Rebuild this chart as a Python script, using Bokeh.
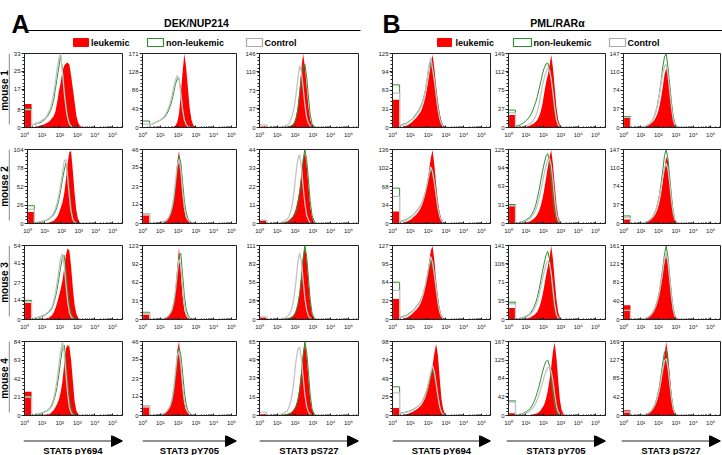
import math
from bokeh.plotting import figure
from bokeh.layouts import row, column
from bokeh.models import Range1d, FixedTicker, Arrow, NormalHead, Spacer
from bokeh.embed import file_html
from bokeh.resources import INLINE
from bokeh.core.properties import value

FONT = "Liberation Sans"
RED = "#ff0000"
GREEN = "#2f8f2f"
GRAY = "#c4c4c4"

# ---------------- data ----------------
GROUPS = ["DEK/NUP214", "PML/RARα"]
PANEL_LETTERS = ["A", "B"]
MARKERS = ["STAT5 pY694", "STAT3 pY705", "STAT3 pS727"]
MARKER_KEYS = ["Y694", "Y705", "S727"]
MICE = ["mouse 1", "mouse 2", "mouse 3", "mouse 4"]
SERIES = ["leukemic", "non-leukemic", "Control"]
X_TICKS = [1, 10, 100, 1000, 10000, 100000]
X_TICK_LABELS = ["10⁰", "10¹", "10²", "10³", "10⁴", "10⁵"]

# log10 bin edges: first bin = on-axis pile-up bin, then 0.1-decade bins
LOG_EDGES = [0.0] + [round(0.4 + 0.1 * k, 1) for k in range(37)]

# counts per bin (first value = pile-up bin at 10^0)
A_m1_Y694_ticks = [0, 8, 17, 25, 33]
A_m1_Y694_leuk = [10.5, 0,0,0.3,0.5,0.8,1, 1.2,1.5,2,2.3,3,4,5,7,11,16,20,25,27.5,28.5,29,28,23,17,11,5,2,0.8,0.3, 0,0,0]
A_m1_Y694_non = [8.5, 1,1.5,1.5,2,2,2.3, 3,3.5,4.5,5.5,7,9,12,17,22,27,32,26,18,11,5,2,0.8,0.3, 0,0,0,0,0,0,0,0]
A_m1_Y694_ctrl = [8, 1,1.5,2,2,2.5,3, 3.5,4,5,6.5,8,11,15,20,26,31,33,25,16,9,4,1.5,0.5, 0,0,0,0,0,0,0,0,0]

A_m1_Y705_ticks = [0, 43, 86, 128, 171]
A_m1_Y705_leuk = [0, 0,0,0,0,0,0, 0,0,0,0,0,0, 0,1,4,12,32,75,128,170,140,92,45,18,6,2, 0,0,0,0,0,0]
A_m1_Y705_non = [15, 6,8,10,12,14,16, 18,21,24,30,38,48,62,80,100,112,115,85,45,18,8,3,1, 0,0,0,0,0,0,0,0,0]
A_m1_Y705_ctrl = [8, 6,8,10,12,14,16, 19,23,28,35,44,56,72,92,110,120,112,80,42,18,7,2.5,1, 0,0,0,0,0,0,0,0,0]

A_m1_S727_ticks = [0, 37, 73, 110, 146]
A_m1_S727_leuk = [2, 0,0,0,0,0,0, 0,0,0.5,0.5,1,1,2,3,5,10,20,40,75,115,146,120,80,40,15,5,2,0.5, 0,0,0,0]
A_m1_S727_non = [0, 0,0,0,0,0,0, 0,0,0.5,0.5,1,1,2,3,5,8,18,35,65,100,120,125,100,60,25,8,3,1, 0,0,0,0]
A_m1_S727_ctrl = [5, 0,0,0,0,0.5,0.5, 1,1,1.5,2,3,5,8,15,25,40,65,95,122,110,80,45,20,8,3,1, 0,0,0,0,0,0]

A_m2_Y694_ticks = [0, 26, 52, 78, 104]
A_m2_Y694_leuk = [16, 0,0,0,0,0,0, 0.5,1,1,2,3,4,7,10,15,22,30,42,62,85,100,102,75,45,20,7,2,0.5, 0,0,0,0]
A_m2_Y694_non = [25, 1,1.5,2,2.5,3,3.5, 4,5,6,8,10,13,18,25,35,48,62,75,85,70,45,22,8,3,1, 0,0,0,0,0,0,0]
A_m2_Y694_ctrl = [20, 1,1.5,2,2.5,3,3.5, 4.5,5.5,7,9,12,16,22,30,42,56,72,88,90,65,38,17,6,2,0.5, 0,0,0,0,0,0,0]

A_m2_Y705_ticks = [0, 12, 23, 35, 46]
A_m2_Y705_leuk = [5, 0,0,0,0,0,0, 0.5,0.5,1,1.5,3,5,8,14,24,38,45,35,20,9,4,2,1,0.5, 0,0,0,0,0,0,0,0]
A_m2_Y705_non = [6, 0,0,0,0,0.5,0.5, 0.5,1,1,2,3,5,8,13,22,34,42,38,26,14,7,3,1.5,0.5, 0,0,0,0,0,0,0,0]
A_m2_Y705_ctrl = [6, 0,0,0,0,0.5,0.5, 1,1,1.5,2,3.5,6,10,16,26,36,40,33,20,10,4,2,1,0.5, 0,0,0,0,0,0,0,0]

A_m2_S727_ticks = [0, 11, 22, 33, 44]
A_m2_S727_leuk = [2, 0,0,0,0,0,0, 0,0,0.5,0.5,1,1,2,3,4,6,9,14,20,29,38,42,35,22,10,4,1,0.5, 0,0,0,0]
A_m2_S727_non = [0, 0,0,0,0,0,0, 0,0,0.5,0.5,0.5,1,1.5,2,3,5,7,12,18,27,38,44,38,26,13,5,2,0.5, 0,0,0,0]
A_m2_S727_ctrl = [2, 0,0,0,0,0,0.5, 0.5,0.5,1,1,2,2.5,4,7,12,20,30,38,41,34,22,12,5,2,0.5, 0,0,0,0,0,0,0]

A_m3_Y694_ticks = [0, 14, 27, 41, 54]
A_m3_Y694_leuk = [12, 0,0,0,0,0,0, 0.5,0.5,1,1,2,3,5,8,12,17,22,28,37,47,52,50,38,22,10,4,1,0.5, 0,0,0,0]
A_m3_Y694_non = [14, 0.5,1,1,1.5,1.5,2, 2.5,3,4,5,6,8,11,16,22,30,38,45,47,36,22,10,4,1.5,0.5, 0,0,0,0,0,0,0]
A_m3_Y694_ctrl = [13, 0.5,1,1,1.5,2,2.5, 3,3.5,4.5,5.5,7,9,13,19,27,36,45,48,40,26,13,5,2,0.5, 0,0,0,0,0,0,0,0]

A_m3_Y705_ticks = [0, 31, 62, 92, 123]
A_m3_Y705_leuk = [8, 0,0,0,0,0,0.5, 1,1.5,2,4,6,10,16,28,50,85,120,80,40,15,6,2,1, 0,0,0,0,0,0,0,0,0]
A_m3_Y705_non = [12, 0,0,0,0,0.5,0.5, 1,1.5,2,3.5,5.5,9,14,24,42,72,105,110,75,40,18,8,3,1,0.5, 0,0,0,0,0,0,0]
A_m3_Y705_ctrl = [10, 0,0,0,0,0.5,0.5, 1,1.5,2.5,4,6,10,16,28,48,78,100,90,55,25,10,4,1.5,0.5, 0,0,0,0,0,0,0,0]

A_m3_S727_ticks = [0, 28, 56, 83, 111]
A_m3_S727_leuk = [3, 0,0,0,0,0,0, 0,0,0.5,0.5,1,1.5,2,3,5,8,14,24,40,65,95,110,90,55,25,8,3,1, 0,0,0,0]
A_m3_S727_non = [0, 0,0,0,0,0,0, 0,0,0.5,0.5,1,1,1.5,2.5,4,7,12,22,38,62,92,111,95,62,30,10,3,1, 0,0,0,0]
A_m3_S727_ctrl = [4, 0,0,0,0,0.5,0.5, 1,1,1.5,2,3,4,7,12,20,35,58,85,100,88,60,32,14,5,2,0.5, 0,0,0,0,0,0]

A_m4_Y694_ticks = [0, 21, 42, 63, 84]
A_m4_Y694_leuk = [27, 0,0,0,0,0,0, 0.5,1,1,1.5,2,4,6,9,13,18,26,38,58,76,80,78,62,38,15,5,1.5,0.5, 0,0,0,0]
A_m4_Y694_non = [22, 1,1,1.5,2,2,2.5, 3,4,5,6,8,11,16,23,33,46,62,76,80,62,38,18,7,2,0.5, 0,0,0,0,0,0,0]
A_m4_Y694_ctrl = [21, 1,1,1.5,2,2.5,3, 3.5,4.5,5.5,7,9,13,19,28,41,57,73,84,72,48,24,9,3,1, 0,0,0,0,0,0,0,0]

A_m4_Y705_ticks = [0, 12, 23, 35, 46]
A_m4_Y705_leuk = [5, 0,0,0,0,0,0.5, 0.5,1,1.5,2.5,4,6,9,15,26,40,46,33,18,8,3.5,1.5,0.5, 0,0,0,0,0,0,0,0,0]
A_m4_Y705_non = [6, 0,0,0,0,0.5,0.5, 0.5,1,1.5,2,3.5,5.5,8,14,23,35,42,38,27,15,7,3,1.5,0.5, 0,0,0,0,0,0,0,0]
A_m4_Y705_ctrl = [6, 0,0,0,0,0.5,0.5, 1,1,1.5,2.5,4,6,10,17,27,37,40,32,19,9,4,2,1,0.5, 0,0,0,0,0,0,0,0]

A_m4_S727_ticks = [0, 16, 33, 49, 65]
A_m4_S727_leuk = [1, 0,0,0,0,0,0, 0,0,0.5,0.5,1,1,1.5,2.5,4,6,9,15,25,40,56,64,52,32,14,5,2,0.5, 0,0,0,0]
A_m4_S727_non = [0, 0,0,0,0,0,0, 0,0,0.5,0.5,0.5,1,1.5,2,3,5,8,13,22,36,52,65,56,38,18,6,2,0.5, 0,0,0,0]
A_m4_S727_ctrl = [3, 0,0,0,0,0.5,0.5, 1,1,1.5,2,3,4,7,12,20,33,48,58,60,50,34,18,8,3,1,0.5, 0,0,0,0,0,0]

B_m1_Y694_ticks = [0, 31, 63, 94, 125]
B_m1_Y694_leuk = [47, 0.5,1,2,3,4,6, 8,11,14,17,21,25,31,40,52,68,87,108,123,100,70,45,25,10,4,1, 0,0,0,0,0,0]
B_m1_Y694_non = [72, 4,5,6,7,9,11, 13,16,20,24,28,33,40,50,63,82,102,110,95,80,58,35,18,8,3,1, 0,0,0,0,0,0]
B_m1_Y694_ctrl = [58, 3,4,5,6,8,10, 12,15,18,22,26,31,38,48,62,82,105,118,100,80,55,32,15,6,2,0.5, 0,0,0,0,0,0]

B_m1_Y705_ticks = [0, 37, 75, 112, 149]
B_m1_Y705_leuk = [25, 0,0.5,0.5,1,1,1.5, 2,3,4,6,8,11,15,22,32,48,70,90,105,125,146,120,80,40,15,5,1.5,0.5, 0,0,0,0]
B_m1_Y705_non = [35, 3,4,5,7,9,12, 15,19,24,31,40,50,62,77,92,108,120,128,130,118,95,62,32,13,4,1, 0,0,0,0,0,0]
B_m1_Y705_ctrl = [30, 0.5,1,1,1.5,2.5,3, 4,6,8,11,16,22,32,47,66,85,100,112,120,115,98,70,40,16,5,1.5,0.5, 0,0,0,0,0]

B_m1_S727_ticks = [0, 37, 74, 110, 147]
B_m1_S727_leuk = [22, 0,0,0,0,0.5,0.5, 1,1,2,3,5,7,10,14,20,28,40,58,80,105,118,110,85,50,22,8,3,1, 0,0,0,0]
B_m1_S727_non = [22, 0,0,0,0,0.5,0.5, 1,1,2,4,6,9,14,20,30,45,65,90,120,140,147,120,85,50,22,8,3,1, 0,0,0,0]
B_m1_S727_ctrl = [20, 0,0,0,0,0.5,0.5, 1,1.5,2.5,4,6,9,14,21,31,46,64,86,108,122,125,105,72,40,16,5,1.5,0.5, 0,0,0,0]

B_m2_Y694_ticks = [0, 34, 68, 102, 136]
B_m2_Y694_leuk = [22, 0.5,1,2,3,4,6, 8,11,14,17,21,26,33,43,57,75,97,120,135,108,72,42,20,8,3,1, 0,0,0,0,0,0]
B_m2_Y694_non = [65, 4,5,6,7,9,11, 13,16,19,23,27,32,38,47,58,72,88,100,92,75,52,30,14,6,2,0.5, 0,0,0,0,0,0]
B_m2_Y694_ctrl = [50, 3,4,5,6,8,10, 12,15,18,22,26,31,37,46,58,73,90,104,95,76,52,29,13,5,1.5,0.5, 0,0,0,0,0,0]

B_m2_Y705_ticks = [0, 31, 63, 94, 125]
B_m2_Y705_leuk = [31, 0,0.5,0.5,1,1,1.5, 2,3,4,6,8,11,15,21,30,42,58,76,95,112,124,100,65,32,12,4,1, 0,0,0,0,0]
B_m2_Y705_non = [32, 1,1.5,2,3,4,5, 7,9,12,16,22,30,42,56,72,88,102,114,118,105,75,42,18,6,2,0.5, 0,0,0,0,0,0]
B_m2_Y705_ctrl = [30, 0.5,1,1.5,2,3,4, 5,7,9,12,16,22,30,41,55,70,85,98,108,110,98,72,40,16,5,1.5,0.5, 0,0,0,0,0]

B_m2_S727_ticks = [0, 37, 74, 110, 147]
B_m2_S727_leuk = [8, 0,0,0,0,0.5,0.5, 1,1,2,3,5,7,10,14,20,28,40,58,82,110,132,125,92,55,24,8,3,1, 0,0,0,0]
B_m2_S727_non = [15, 0,0,0,0,0.5,0.5, 1,1.5,2,3.5,5,8,12,18,26,38,55,78,105,135,147,128,92,55,24,8,3,1, 0,0,0,0]
B_m2_S727_ctrl = [12, 0,0,0,0,0.5,0.5, 1,1.5,2.5,4,6,9,13,19,27,38,52,70,92,110,120,108,80,46,20,7,2,0.5, 0,0,0,0]

B_m3_Y694_ticks = [0, 32, 64, 95, 127]
B_m3_Y694_leuk = [35, 0.5,1,2,3,4,6, 8,11,14,17,21,26,33,43,57,75,97,118,126,102,68,40,19,7,2.5,0.5, 0,0,0,0,0,0]
B_m3_Y694_non = [64, 4,5,6,7,9,11, 13,16,19,23,27,32,38,47,58,72,88,100,92,75,52,30,14,6,2,0.5, 0,0,0,0,0,0]
B_m3_Y694_ctrl = [50, 3,4,5,6,8,10, 12,15,18,22,26,31,37,47,60,76,93,108,98,78,53,30,13,5,1.5,0.5, 0,0,0,0,0,0]

B_m3_Y705_ticks = [0, 35, 71, 106, 141]
B_m3_Y705_leuk = [22, 0,0.5,0.5,1,1,1.5, 2,3,4,6,8,11,15,22,32,46,64,84,100,118,140,115,75,38,14,4,1, 0,0,0,0,0]
B_m3_Y705_non = [33, 1,1.5,2,3,4,5, 7,9,12,17,23,31,42,57,74,92,108,122,130,115,82,46,20,7,2,0.5, 0,0,0,0,0,0]
B_m3_Y705_ctrl = [30, 0.5,1,1.5,2,3,4, 5,7,10,13,18,25,34,46,61,77,92,105,112,108,88,58,28,10,3,1, 0,0,0,0,0,0]

B_m3_S727_ticks = [0, 40, 81, 121, 161]
B_m3_S727_leuk = [31, 0,0,0,0,0.5,0.5, 1,1.5,2.5,4,6,9,13,19,27,38,54,75,100,125,140,120,82,45,18,6,2,0.5, 0,0,0,0]
B_m3_S727_non = [20, 0,0,0,0,0.5,0.5, 1,1.5,2.5,4,6,9,14,21,30,43,60,84,112,142,160,135,95,55,24,8,3,1, 0,0,0,0]
B_m3_S727_ctrl = [20, 0,0,0,0,0.5,0.5, 1,1.5,2.5,4,6,9,14,20,29,41,57,79,105,132,145,124,88,50,21,7,2,0.5, 0,0,0,0]

B_m4_Y694_ticks = [0, 25, 49, 74, 98]
B_m4_Y694_leuk = [10, 0.5,0.5,1,1.5,2,3, 4,5,6.5,8,10,12,15,19,24,31,40,52,66,82,95,80,50,22,8,2,0.5, 0,0,0,0,0]
B_m4_Y694_non = [38, 3,3.5,4,4.5,5,6, 7,8,9.5,11,13,15,18,22,27,34,43,53,60,54,40,24,11,4,1.5,0.5, 0,0,0,0,0,0]
B_m4_Y694_ctrl = [30, 2.5,3,3.5,4,4.5,5.5, 6.5,7.5,9,11,13,15,18,23,29,37,47,58,66,58,43,26,12,4.5,1.5,0.5, 0,0,0,0,0,0]

B_m4_Y705_ticks = [0, 42, 84, 125, 167]
B_m4_Y705_leuk = [5, 0,0,0,0,0,0, 0.5,1,1,2,3,4,5,8,12,18,25,38,55,80,110,145,165,130,80,35,12,4,1, 0,0,0]
B_m4_Y705_non = [33, 1.5,2,3,4,5,7, 9,12,16,22,30,40,52,66,82,98,112,122,125,112,85,50,22,7,2,0.5, 0,0,0,0,0,0]
B_m4_Y705_ctrl = [30, 1,1.5,2,3,4,5, 6,8,11,15,20,27,36,47,60,74,88,100,108,110,100,78,48,22,8,2.5,0.5, 0,0,0,0,0]

B_m4_S727_ticks = [0, 42, 85, 127, 169]
B_m4_S727_leuk = [12, 0,0,0,0,0.5,0.5, 1,1.5,2.5,4,6,9,13,19,27,38,54,76,104,138,168,140,95,52,20,7,2,0.5, 0,0,0,0]
B_m4_S727_non = [8, 0,0,0,0,0.5,0.5, 1,1.5,2.5,4,6,9,14,21,31,45,64,90,120,145,150,120,80,42,16,5,1.5,0.5, 0,0,0,0]
B_m4_S727_ctrl = [8, 0,0,0,0,0.5,0.5, 1,1.5,2.5,4,6,9,14,20,29,41,58,80,104,125,130,110,75,40,15,5,1.5,0.5, 0,0,0,0]

# ---------------- layout ----------------
HDR_H = 51
ROW_H = 96
TOP_B = 2
BOT_B = 20
FOOT_H = 20
LABEL_W = 10
COL_LEFT_BORDERS = [13, 19, 22, 33, 15, 15]
COL_FRAME_W = [99, 94, 99, 98, 99, 99]
PX_PER_DECADE = 17.8


def base_fig(**kw):
    p = figure(toolbar_location=None, output_backend="svg", **kw)
    p.grid.visible = False
    p.background_fill_color = "white"
    p.border_fill_color = "white"
    return p


def split(vals):
    """pile-up bin (x from 10^0 to first edge) and distribution sampled at bin centres"""
    n = len(vals)
    lo, hi = 10 ** LOG_EDGES[0], 10 ** LOG_EDGES[1]
    cx = [10 ** ((LOG_EDGES[i] + LOG_EDGES[i + 1]) / 2) for i in range(1, n)]
    xs = [hi] + cx + [10 ** LOG_EDGES[n]]
    ys = [0] + list(vals[1:]) + [0]
    return lo, hi, xs, ys


def hist_panel(g, m, k, bl, fw):
    name = f"{g}_m{m}_{k}"
    ticks = globals()[name + "_ticks"]
    leu = globals()[name + "_leuk"]
    non = globals()[name + "_non"]
    ctl = globals()[name + "_ctrl"]
    xmax = 10 ** (fw / PX_PER_DECADE)
    p = base_fig(width=bl + fw + 1, height=ROW_H, x_axis_type="log",
                 x_range=Range1d(1, xmax), y_range=Range1d(0, ticks[-1]),
                 min_border_left=bl, min_border_right=1,
                 min_border_top=TOP_B, min_border_bottom=BOT_B)
    p.outline_line_color = "#222222"
    p.outline_line_width = 1

    lo, hi, xs, ys = split(leu)
    p.quad(left=[lo], right=[hi], bottom=[0], top=[leu[0]], fill_color=RED, line_color=None)
    p.varea(x=xs, y1=[0] * len(xs), y2=ys, fill_color=RED)
    for vals, col, lw in ((non, GREEN, 1.0), (ctl, GRAY, 1.3)):
        lo, hi, xs, ys = split(vals)
        p.line([lo, lo, hi, hi], [0, vals[0], vals[0], 0], line_color=col, line_width=lw)
        p.line(xs, ys, line_color=col, line_width=lw)

    xa = p.xaxis[0]
    xa.ticker = FixedTicker(ticks=X_TICKS,
                            minor_ticks=[mm * 10 ** d for d in range(6) for mm in range(2, 10)])
    xa.major_label_overrides = {t: lab for t, lab in zip(X_TICKS, X_TICK_LABELS)}
    xa.major_tick_in = 2
    xa.major_tick_out = 0
    xa.minor_tick_in = 1
    xa.minor_tick_out = 0
    xa.major_label_standoff = 4

    ya = p.yaxis[0]
    ya.ticker = FixedTicker(ticks=ticks,
                            minor_ticks=[ticks[-1] * j / 20 for j in range(21)])
    ya.major_tick_in = 0
    ya.major_tick_out = 3
    ya.minor_tick_in = 0
    ya.minor_tick_out = 2
    ya.major_label_standoff = 1

    for ax in (xa, ya):
        ax.major_label_text_font = FONT
        ax.major_label_text_font_size = "6px"
        ax.major_label_text_color = "#222222"
        ax.axis_line_color = "#222222"
        ax.major_tick_line_color = "#222222"
        ax.minor_tick_line_color = "#222222"
    return p


def label_fig(text):
    p = base_fig(width=LABEL_W, height=ROW_H, x_range=Range1d(0, 10), y_range=Range1d(0, 1),
                 min_border_left=0, min_border_right=0, min_border_top=TOP_B,
                 min_border_bottom=BOT_B, x_axis_location=None, y_axis_location=None)
    p.outline_line_color = None
    p.text(x=[4.3], y=[0.5], text=[text], angle=math.pi / 2,
           text_align="center", text_baseline="middle",
           text_font=value(FONT), text_font_size="10px", text_font_style="bold",
           text_color="black")
    p.segment(x0=[8.8], y0=[0.04], x1=[8.8], y1=[1.0], line_color="#8a8a8a", line_width=1)
    return p


# header (coordinates in pixels of the header strip)
hdr = base_fig(width=722, height=HDR_H, x_range=Range1d(0, 722), y_range=Range1d(HDR_H, 0),
               min_border=0, x_axis_location=None, y_axis_location=None)
hdr.outline_line_color = None
hdr.text(x=[11, 382], y=[23, 23], text=PANEL_LETTERS, text_font=value(FONT),
         text_font_size="25px", text_font_style="bold", text_baseline="alphabetic",
         text_color="black")
hdr.text(x=[196, 557], y=[22.5, 22.5], text=GROUPS, text_font=value(FONT),
         text_font_size="10.5px", text_font_style="bold", text_align="center",
         text_baseline="middle", text_color="black")
hdr.segment(x0=[27, 392], y0=[30, 30], x1=[360, 722], y1=[30, 30],
            line_color="black", line_width=1)
leg_boxes = [(73, 88, 147, 163, 246, 262), (437, 451, 513, 531, 609, 625)]
leg_text_x = [(90.5, 165.5, 264), (455, 533, 627)]
for boxes, tx in zip(leg_boxes, leg_text_x):
    hdr.quad(left=[boxes[0]], right=[boxes[1]], top=[38], bottom=[46],
             fill_color=RED, line_color=RED, line_width=1)
    hdr.quad(left=[boxes[2]], right=[boxes[3]], top=[38], bottom=[46],
             fill_color="white", line_color=GREEN, line_width=1.2)
    hdr.quad(left=[boxes[4]], right=[boxes[5]], top=[38], bottom=[46],
             fill_color="white", line_color="#a8a8a8", line_width=1.2)
    hdr.text(x=list(tx), y=[42, 42, 42], text=SERIES, text_font=value(FONT),
             text_font_size="9px", text_font_style="bold", text_baseline="middle",
             text_color="black")

rows = [hdr]
for mi in range(4):
    children = [label_fig(MICE[mi])]
    ci = 0
    for g in PANEL_LETTERS:
        for k in MARKER_KEYS:
            children.append(hist_panel(g, mi + 1, k, COL_LEFT_BORDERS[ci], COL_FRAME_W[ci]))
            ci += 1
    rows.append(row(children))

# footer: arrows + marker names
foot = [Spacer(width=LABEL_W, height=FOOT_H)]
ci = 0
for g in PANEL_LETTERS:
    for mk in MARKERS:
        bl = COL_LEFT_BORDERS[ci]
        fw = COL_FRAME_W[ci]
        f = base_fig(width=bl + fw + 1, height=FOOT_H, x_range=Range1d(0, 1),
                     y_range=Range1d(FOOT_H, 0), min_border_left=bl, min_border_right=1,
                     min_border_top=0, min_border_bottom=0,
                     x_axis_location=None, y_axis_location=None)
        f.outline_line_color = None
        f.add_layout(Arrow(end=NormalHead(size=11, fill_color="black", line_color="black"),
                           x_start=0.0, y_start=5.5, x_end=1.0, y_end=5.5,
                           line_color="#222222", line_width=1))
        f.text(x=[0.5], y=[15], text=[mk], text_font=value(FONT),
               text_font_size="9.5px", text_font_style="bold", text_align="center",
               text_baseline="middle", text_color="black")
        foot.append(f)
        ci += 1
rows.append(row(foot))

layout = column(rows)
open("out.html", "w").write(file_html(layout, INLINE))
